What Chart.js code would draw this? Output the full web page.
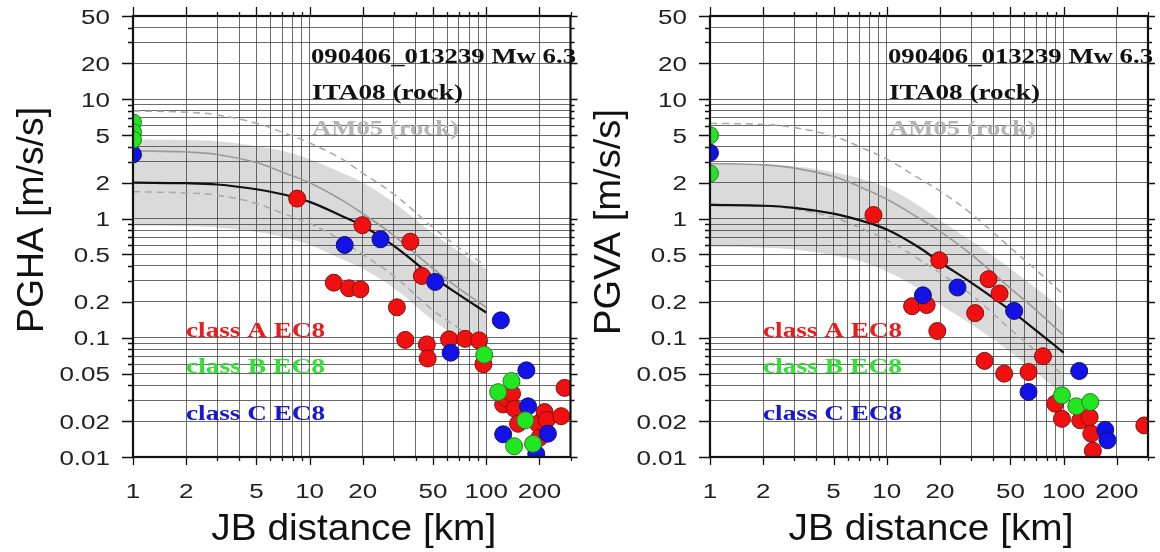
<!DOCTYPE html>
<html>
<head>
<meta charset="utf-8">
<script src="https://cdn.jsdelivr.net/npm/chart.js@4.4.1/dist/chart.umd.min.js"></script>
<style>
  html, body { margin: 0; padding: 0; background: #fff; }
  #wrap { position: relative; width: 1160px; height: 552px; }
  canvas { position: absolute; top: 0; }
</style>
</head>
<body>
<div id="wrap">
  <canvas id="pgha" width="580" height="552" style="left:0"></canvas>
  <canvas id="pgva" width="580" height="552" style="left:580px"></canvas>
</div>
<script>
// tick labels on both axes
const xTickLabels = [1, 2, 5, 10, 20, 50, 100, 200];
const yTickLabels = [0.01, 0.02, 0.05, 0.1, 0.2, 0.5, 1, 2, 5, 10, 20, 50];

// distances (km) at which the GMPE curves are sampled
const curveDist = [1, 2, 3, 5, 7, 10, 15, 20, 30, 50, 70, 100];

// PGHA: ITA08 median and +/- sigma, AM05 median and +/- sigma (m/s/s)
const pghaIta08   = [2.0, 1.98, 1.93, 1.76, 1.6, 1.38, 1.06, 0.87, 0.59, 0.325, 0.23, 0.163];
const pghaIta08Hi = [4.6, 4.55, 4.45, 4.05, 3.7, 3.15, 2.45, 2.0, 1.36, 0.75, 0.53, 0.375];
const pghaIta08Lo = [0.87, 0.86, 0.84, 0.77, 0.7, 0.6, 0.46, 0.38, 0.26, 0.14, 0.1, 0.071];
const pghaAm05    = [3.7, 3.62, 3.45, 2.95, 2.45, 2.0, 1.45, 1.1, 0.72, 0.38, 0.26, 0.18];
const pghaAm05Hi  = [8.0, 7.8, 7.4, 6.3, 5.3, 4.3, 3.2, 2.4, 1.6, 0.84, 0.57, 0.4];
const pghaAm05Lo  = [1.68, 1.64, 1.57, 1.34, 1.11, 0.91, 0.66, 0.5, 0.33, 0.17, 0.12, 0.082];

// PGHA records [JB distance km, value] by EC8 site class
const pghaClassA = [[8.5, 1.47], [13.7, 0.29], [16.7, 0.26], [19.4, 0.255], [19.9, 0.88], [31.2, 0.18],
  [34.8, 0.096], [37.2, 0.64], [43.2, 0.33], [46.1, 0.088], [46.6, 0.067], [61.6, 0.097], [75.9, 0.098],
  [91, 0.095], [96.4, 0.06], [124.7, 0.0276], [130, 0.031], [140, 0.034], [145, 0.0254], [151.4, 0.019],
  [196, 0.019], [200, 0.0145], [214, 0.0238], [220, 0.0205], [265.7, 0.022], [277.6, 0.038]];
const pghaClassB = [[1, 6.4], [1, 5.3], [1, 4.6], [97.4, 0.072], [116.8, 0.035], [138.9, 0.0434],
  [143.8, 0.0123], [166.5, 0.0203], [184, 0.0129]];
const pghaClassC = [[1, 3.45], [15.8, 0.6], [25.2, 0.67], [51.4, 0.294], [62.9, 0.075], [121, 0.14],
  [124.7, 0.0155], [168.7, 0.0533], [172.5, 0.0266], [192, 0.0106], [223.5, 0.0157]];

// PGVA curves
const pgvaIta08   = [1.3, 1.28, 1.23, 1.1, 0.97, 0.81, 0.58, 0.43, 0.29, 0.17, 0.115, 0.075];
const pgvaIta08Hi = [2.9, 2.85, 2.74, 2.45, 2.18, 1.82, 1.3, 0.97, 0.65, 0.38, 0.26, 0.17];
const pgvaIta08Lo = [0.58, 0.57, 0.55, 0.49, 0.44, 0.36, 0.26, 0.19, 0.13, 0.076, 0.051, 0.033];
const pgvaAm05    = [2.9, 2.82, 2.65, 2.25, 1.85, 1.45, 1.02, 0.78, 0.5, 0.26, 0.17, 0.105];
const pgvaAm05Hi  = [6.3, 6.15, 5.8, 4.9, 4.0, 3.15, 2.2, 1.7, 1.1, 0.57, 0.37, 0.23];
const pgvaAm05Lo  = [1.32, 1.28, 1.2, 1.02, 0.84, 0.66, 0.46, 0.35, 0.23, 0.118, 0.077, 0.048];

// PGVA records
const pgvaClassA = [[8.4, 1.07], [13.9, 0.184], [16.8, 0.188], [19.3, 0.114], [19.8, 0.447], [31.6, 0.161],
  [35.7, 0.064], [37.6, 0.31], [43.4, 0.235], [46.1, 0.05], [63.3, 0.0516], [76.4, 0.07], [89.6, 0.028],
  [97.8, 0.0209], [124.2, 0.0203], [140.2, 0.0216], [143.3, 0.0157], [146.3, 0.0113], [286, 0.0184]];
const pgvaClassB = [[1, 5.0], [1, 2.39], [97.8, 0.0329], [117.9, 0.0266], [141.4, 0.0289]];
const pgvaClassC = [[1, 3.56], [16, 0.227], [25.1, 0.264], [52.5, 0.168], [63.3, 0.0351], [122.5, 0.0526],
  [171.9, 0.0169], [177, 0.0138]];

const eventTitle = '090406_013239 Mw 6.3';

const toXY = pts => pts.map(p => ({ x: p[0], y: p[1] }));
const curve = vals => vals.map((v, i) => ({ x: curveDist[i], y: v }));

// every 1..9 x 10^k between min and max, used for grid lines
function logGrid(min, max) {
  const out = [];
  for (let e = -3; e <= 3; e++) {
    for (let m = 1; m <= 9; m++) {
      const v = +(m * Math.pow(10, e)).toPrecision(3);
      if (v >= min * 0.999 && v <= max * 1.001) out.push(v);
    }
  }
  return out;
}

// text with a horizontal stretch, fitted to a given width when one is passed
function stretchText(ctx, text, x, y, font, color, opt) {
  opt = opt || {};
  ctx.save();
  ctx.font = font;
  ctx.fillStyle = color;
  ctx.textBaseline = opt.baseline || 'alphabetic';
  let sx = opt.sx || 1;
  if (opt.width) sx = opt.width / ctx.measureText(text).width;
  ctx.translate(x, y);
  if (opt.rotate) ctx.rotate(opt.rotate);
  ctx.scale(sx, 1);
  ctx.textAlign = opt.align || 'left';
  ctx.fillText(text, 0, 0);
  ctx.restore();
}

const decorPlugin = {
  id: 'decor',
  afterDraw(chart) {
    const ctx = chart.ctx;
    const a = chart.chartArea;
    const xs = chart.scales.x, ys = chart.scales.y;
    const cfg = chart.options.plugins.decor;

    ctx.save();
    ctx.strokeStyle = '#111';
    ctx.lineWidth = 1.3;
    ctx.beginPath();
    // minor ticks on all four sides, longer ones at labelled values
    logGrid(1, 300).forEach(v => {
      const px = Math.round(xs.getPixelForValue(v)) + 0.5;
      const major = xTickLabels.includes(v);
      ctx.moveTo(px, a.bottom); ctx.lineTo(px, a.bottom + (major ? 8 : 4));
      ctx.moveTo(px, a.top); ctx.lineTo(px, a.top - (major ? 9 : 4));
    });
    logGrid(0.01, 50).forEach(v => {
      const py = Math.round(ys.getPixelForValue(v)) + 0.5;
      const major = yTickLabels.includes(v);
      ctx.moveTo(a.left, py); ctx.lineTo(a.left - (major ? 11 : 5), py);
      ctx.moveTo(a.right, py); ctx.lineTo(a.right + (major ? 7 : 4), py);
    });
    ctx.stroke();

    // plot frame
    ctx.lineWidth = 2.2;
    ctx.strokeRect(a.left, a.top, a.right - a.left, a.bottom - a.top);
    ctx.restore();

    const tickFont = '20px "Liberation Sans", Arial, sans-serif';
    yTickLabels.forEach(v => {
      const py = ys.getPixelForValue(v);
      stretchText(ctx, String(v), a.left - 23, py + 7.5, tickFont, '#222', { sx: 1.3, align: 'right' });
    });
    xTickLabels.forEach(v => {
      const px = xs.getPixelForValue(v);
      stretchText(ctx, String(v), px, a.bottom + 41, tickFont, '#222', { sx: 1.3, align: 'center' });
    });

    const titleFont = '37px "Liberation Sans", Arial, sans-serif';
    stretchText(ctx, 'JB distance [km]', (a.left + a.right) / 2 + 2, 540, titleFont, '#111',
      { width: 285, align: 'center' });
    stretchText(ctx, cfg.yTitle, cfg.yTitleX, cfg.yTitleY, titleFont, '#111',
      { width: cfg.yTitleW, align: 'center', rotate: -Math.PI / 2, baseline: 'middle' });

    // event and model annotation
    const serif = 'bold 22px "Liberation Serif", "Times New Roman", serif';
    const tx = a.left + 178;
    stretchText(ctx, eventTitle, tx, 63, serif, '#111', { width: 265 });
    stretchText(ctx, 'ITA08 (rock)', tx + 1, 99, serif, '#111', { width: 151 });
    stretchText(ctx, 'AM05 (rock)', tx + 1, 135, serif, '#b4b4b4', { width: 147 });

    // site class key
    const keyFont = 'bold 20px "Liberation Serif", "Times New Roman", serif';
    const kx = a.left + 53;
    stretchText(ctx, 'class A EC8', kx, 337, keyFont, '#ec1c1c', { width: 139 });
    stretchText(ctx, 'class B EC8', kx, 373, keyFont, '#33e033', { width: 139 });
    stretchText(ctx, 'class C EC8', kx, 420, keyFont, '#1818d4', { width: 139 });
  }
};

function makePanel(id, p) {
  const lineBase = { showLine: true, pointRadius: 0, fill: false, tension: 0.4, clip: 0 };
  const pointBase = { showLine: false, pointRadius: 8.5, pointBorderWidth: 1, clip: 0 };
  return new Chart(document.getElementById(id), {
    type: 'line',
    data: {
      datasets: [
        Object.assign({ data: toXY(p.classB), pointBackgroundColor: '#22e622', pointBorderColor: '#2a7a2a' }, pointBase),
        Object.assign({ data: toXY(p.classC), pointBackgroundColor: '#1212e8', pointBorderColor: '#101070' }, pointBase),
        Object.assign({ data: toXY(p.classA), pointBackgroundColor: '#f01010', pointBorderColor: '#801010' }, pointBase),
        Object.assign({ data: curve(p.ita08), borderColor: '#111', borderWidth: 2.2 }, lineBase),
        Object.assign({ data: curve(p.am05), borderColor: '#9a9a9a', borderWidth: 1.6 }, lineBase),
        Object.assign({ data: curve(p.am05Hi), borderColor: '#a8a8a8', borderWidth: 1.5, borderDash: [7, 5] }, lineBase),
        Object.assign({ data: curve(p.am05Lo), borderColor: '#a8a8a8', borderWidth: 1.5, borderDash: [7, 5] }, lineBase),
        Object.assign({}, lineBase, { data: curve(p.ita08Hi), borderWidth: 0, borderColor: 'rgba(0,0,0,0)',
          fill: '+1', backgroundColor: 'rgba(212,212,212,0.85)' }),
        Object.assign({ data: curve(p.ita08Lo), borderWidth: 0, borderColor: 'rgba(0,0,0,0)' }, lineBase)
      ]
    },
    options: {
      responsive: false,
      animation: false,
      devicePixelRatio: 1,
      layout: { padding: p.padding },
      plugins: {
        legend: { display: false },
        tooltip: { enabled: false },
        filler: { drawTime: 'beforeDraw' },
        decor: p.decor
      },
      scales: {
        x: {
          type: 'logarithmic', min: 1, max: 300,
          afterBuildTicks: s => { s.ticks = logGrid(1, 300).map(v => ({ value: v })); },
          afterFit: s => { s.height = 0; },
          ticks: { display: false },
          border: { display: false },
          grid: { color: 'rgba(70,70,70,0.8)', lineWidth: 1, drawTicks: false }
        },
        y: {
          type: 'logarithmic', min: 0.01, max: 50,
          afterBuildTicks: s => { s.ticks = logGrid(0.01, 50).map(v => ({ value: v })); },
          afterFit: s => { s.width = 0; },
          ticks: { display: false },
          border: { display: false },
          grid: { color: 'rgba(70,70,70,0.8)', lineWidth: 1, drawTicks: false }
        }
      }
    },
    plugins: [decorPlugin]
  });
}

makePanel('pgha', {
  ita08: pghaIta08, ita08Hi: pghaIta08Hi, ita08Lo: pghaIta08Lo,
  am05: pghaAm05, am05Hi: pghaAm05Hi, am05Lo: pghaAm05Lo,
  classA: pghaClassA, classB: pghaClassB, classC: pghaClassC,
  padding: { left: 133, right: 7, top: 16, bottom: 95 },
  decor: { yTitle: 'PGHA [m/s/s]', yTitleX: 33, yTitleY: 220, yTitleW: 226 }
});

makePanel('pgva', {
  ita08: pgvaIta08, ita08Hi: pgvaIta08Hi, ita08Lo: pgvaIta08Lo,
  am05: pgvaAm05, am05Hi: pgvaAm05Hi, am05Lo: pgvaAm05Lo,
  classA: pgvaClassA, classB: pgvaClassB, classC: pgvaClassC,
  padding: { left: 130, right: 12, top: 16, bottom: 95 },
  decor: { yTitle: 'PGVA [m/s/s]', yTitleX: 30, yTitleY: 222, yTitleW: 226 }
});
</script>
</body>
</html>
